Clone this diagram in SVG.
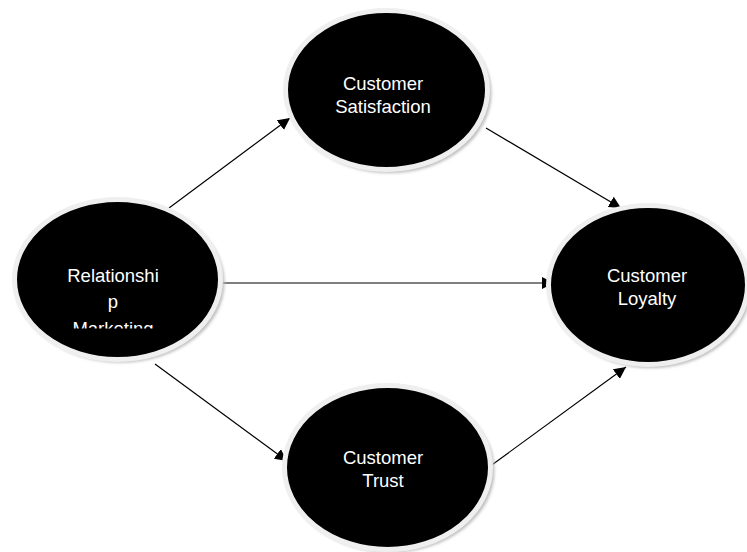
<svg xmlns="http://www.w3.org/2000/svg" width="747" height="552" viewBox="0 0 747 552">
  <defs>
    <style>
      .shadow { fill: #bdbdbd; filter: url(#soft); }
      .node { fill: #000; stroke: #efefef; stroke-width: 5; }
      .label { fill: #fff; font-family: "Liberation Sans", Arial, sans-serif; font-size: 18.5px; text-anchor: middle; }
      .edge { stroke: #000; stroke-width: 1.2; fill: none; marker-end: url(#arrow); }
    </style>
    <filter id="soft" x="-10%" y="-10%" width="120%" height="120%">
      <feGaussianBlur stdDeviation="1.5"/>
    </filter>
    <marker id="arrow" viewBox="0 0 10 10" refX="10" refY="5" markerWidth="12" markerHeight="12" markerUnits="userSpaceOnUse" orient="auto">
      <path d="M0,0 L10,5 L0,10 z" fill="#000"/>
    </marker>
    <!-- the third line of the left node is cut off by its text box -->
    <clipPath id="rmClip">
      <rect x="0" y="200" width="240" height="128.5"/>
    </clipPath>
  </defs>

  <g id="connectors">
    <line class="edge" x1="169" y1="208" x2="290" y2="118"/>
    <line class="edge" x1="486" y1="128" x2="621" y2="208"/>
    <line class="edge" x1="216" y1="283" x2="554" y2="283"/>
    <line class="edge" x1="155" y1="364" x2="287" y2="461"/>
    <line class="edge" x1="489" y1="467" x2="626" y2="367"/>
  </g>

  <g id="relationship-marketing">
    <ellipse class="shadow" cx="120.5" cy="282.5" rx="104" ry="80"/>
    <ellipse class="node" cx="117.5" cy="279.5" rx="103" ry="80"/>
    <g clip-path="url(#rmClip)">
      <text class="label" x="113" y="282" font-size="19.5">Relationshi</text>
      <text class="label" x="113" y="308" font-size="19.5">p</text>
      <text class="label" x="113" y="335" font-size="19.5">Marketing</text>
    </g>
  </g>

  <g id="customer-satisfaction">
    <ellipse class="shadow" cx="389.5" cy="93" rx="102" ry="80"/>
    <ellipse class="node" cx="386.5" cy="90" rx="101" ry="79.5"/>
    <text class="label" x="383" y="90">Customer</text>
    <text class="label" x="383" y="113">Satisfaction</text>
  </g>

  <g id="customer-loyalty">
    <ellipse class="shadow" cx="651" cy="288" rx="100" ry="80"/>
    <ellipse class="node" cx="648" cy="285" rx="99.5" ry="79.5"/>
    <text class="label" x="647" y="282">Customer</text>
    <text class="label" x="647" y="305">Loyalty</text>
  </g>

  <g id="customer-trust">
    <ellipse class="shadow" cx="390.5" cy="470.5" rx="104" ry="82"/>
    <ellipse class="node" cx="387.5" cy="467.5" rx="103" ry="82"/>
    <text class="label" x="383" y="464">Customer</text>
    <text class="label" x="383" y="487">Trust</text>
  </g>
</svg>
